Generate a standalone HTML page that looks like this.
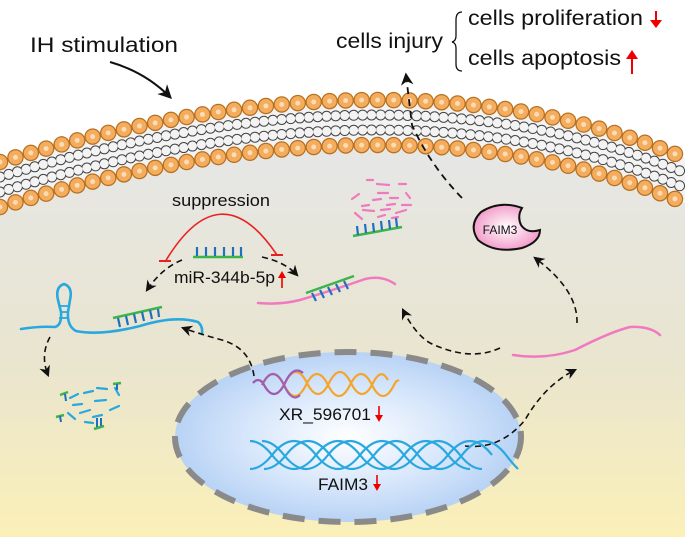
<!DOCTYPE html>
<html><head><meta charset="utf-8"><style>
html,body{margin:0;padding:0;background:#fff}
svg{display:block;font-family:"Liberation Sans",Arial,sans-serif}
</style></head><body>
<svg width="685" height="537" viewBox="0 0 685 537" xmlns="http://www.w3.org/2000/svg">
<defs>
<linearGradient id="cyto" x1="0" y1="0" x2="0" y2="1">
<stop offset="0" stop-color="#e6e6e6"/><stop offset="0.55" stop-color="#e9e5cf"/><stop offset="1" stop-color="#fbf0b8"/>
</linearGradient>
<radialGradient id="nuc" cx="0.5" cy="0.5" r="0.6">
<stop offset="0" stop-color="#ffffff"/><stop offset="0.5" stop-color="#d6e6fb"/><stop offset="1" stop-color="#a9c9f2"/>
</radialGradient>
<radialGradient id="faim" cx="0.5" cy="0.5" r="0.6">
<stop offset="0" stop-color="#fff"/><stop offset="1" stop-color="#f08cc0"/>
</radialGradient>
<marker id="ah" viewBox="0 0 10 10" refX="8" refY="5" markerWidth="7" markerHeight="7" orient="auto">
<path d="M0,0 L10,5 L0,10 L3,5 Z" fill="#111"/></marker>
</defs>
<rect width="685" height="537" fill="#fff"/>
<path d="M0,207 Q400,85 685,203 L685,537 L0,537 Z" fill="url(#cyto)"/>
<path d="M0,162 Q400,40 685,158 L685,203 Q400,85 0,207 Z" fill="#f3f3f3"/>
<g fill="none">
<path d="M0,177 Q400,55 685,173" stroke="#444" stroke-width="11" stroke-dasharray="0 9" stroke-linecap="round"/>
<path d="M0,177 Q400,55 685,173" stroke="#f3f3f3" stroke-width="9" stroke-dasharray="0 9" stroke-linecap="round"/>
<path d="M0,192 Q400,70 685,188" stroke="#444" stroke-width="11" stroke-dasharray="0 9" stroke-linecap="round"/>
<path d="M0,192 Q400,70 685,188" stroke="#f3f3f3" stroke-width="9" stroke-dasharray="0 9" stroke-linecap="round"/>
</g>
<g fill="none" stroke-linecap="round">
<path d="M0,162 Q400,40 685,158" stroke="#b8701e" stroke-width="16.5" stroke-dasharray="0 16"/>
<path d="M0,162 Q400,40 685,158" stroke="#f4ad5e" stroke-width="14" stroke-dasharray="0 16"/>
<path d="M0,162 Q400,40 685,158" stroke="#fbdcb4" stroke-width="5" stroke-dasharray="0 16"/>
<path d="M0,207 Q400,85 685,203" stroke="#b8701e" stroke-width="16.5" stroke-dasharray="0 16"/>
<path d="M0,207 Q400,85 685,203" stroke="#f4ad5e" stroke-width="14" stroke-dasharray="0 16"/>
<path d="M0,207 Q400,85 685,203" stroke="#fbdcb4" stroke-width="5" stroke-dasharray="0 16"/>
</g>

<text x="30" y="52" font-size="21" fill="#111" textLength="148" lengthAdjust="spacingAndGlyphs">IH stimulation</text>
<path d="M110,62 Q145,72 170,97" fill="none" stroke="#111" stroke-width="2" marker-end="url(#ah)"/>
<text x="336" y="48" font-size="21" fill="#111" textLength="107" lengthAdjust="spacingAndGlyphs">cells injury</text>
<path d="M462,12 Q456,12 456,20 L456,36 Q456,41 452,42 Q456,43 456,48 L456,64 Q456,71 462,71" fill="none" stroke="#111" stroke-width="1.3"/>
<text x="468" y="25" font-size="21" fill="#111" textLength="175" lengthAdjust="spacingAndGlyphs">cells proliferation</text>
<text x="468" y="65" font-size="21" fill="#111" textLength="153" lengthAdjust="spacingAndGlyphs">cells apoptosis</text>
<g stroke="#e00" stroke-width="2" fill="#e00">
<line x1="656" y1="11" x2="656" y2="24"/><path d="M650,20 L656,28 L662,20 Z" stroke="none"/>
<line x1="632" y1="74" x2="632" y2="56"/><path d="M626,59 L632,50 L638,59 Z" stroke="none"/>
</g>
<path d="M462,198 Q430,165 412,125 L406,75" fill="none" stroke="#111" stroke-width="1.8" stroke-dasharray="7 5" marker-end="url(#ah)"/>

<text x="172" y="206" font-size="17" fill="#111" textLength="98" lengthAdjust="spacingAndGlyphs">suppression</text>
<path d="M165,262 Q220,170 277,255" fill="none" stroke="#e82020" stroke-width="1.6"/>
<line x1="159" y1="261" x2="171" y2="261" stroke="#e82020" stroke-width="2"/>
<line x1="271" y1="255" x2="283" y2="255" stroke="#e82020" stroke-width="2"/>
<line x1="193" y1="257" x2="243" y2="257" stroke="#3cb44a" stroke-width="2.5"/>
<g stroke="#1f6fbf" stroke-width="2.2"><line x1="197" y1="247" x2="197" y2="256"/><line x1="206" y1="247" x2="206" y2="256"/><line x1="215" y1="247" x2="215" y2="256"/><line x1="224" y1="247" x2="224" y2="256"/><line x1="233" y1="247" x2="233" y2="256"/><line x1="241" y1="247" x2="241" y2="256"/></g>
<text x="174" y="283" font-size="17" fill="#111" textLength="101" lengthAdjust="spacingAndGlyphs">miR-344b-5p</text>
<line x1="282" y1="288" x2="282" y2="276" stroke="#e00" stroke-width="1.6"/><path d="M278,278 L282,271 L286,278 Z" fill="#e00"/>
<path d="M182,260 Q162,268 147,290" fill="none" stroke="#111" stroke-width="1.6" stroke-dasharray="6 4" marker-end="url(#ah)"/>
<path d="M262,257 Q285,262 297,275" fill="none" stroke="#111" stroke-width="1.6" stroke-dasharray="6 4" marker-end="url(#ah)"/>

<g fill="none" stroke="#29a8e0" stroke-width="2.6" stroke-linecap="round">
<path d="M21,329 Q40,326 55,327 Q62,325 61,312 L58,300 Q55,287 64,284 Q73,287 70,300 L68,312 Q67,326 76,331 Q100,336 140,326 Q175,315 198,322 Q203,326 202,334"/>
</g>
<g stroke="#29a8e0" stroke-width="1.8"><line x1="60" y1="306" x2="69" y2="306"/><line x1="60" y1="312" x2="68" y2="312"/><line x1="59" y1="318" x2="68" y2="318"/></g>
<line x1="113" y1="318" x2="162" y2="307" stroke="#3cb44a" stroke-width="2.5"/>
<g stroke="#1f6fbf" stroke-width="2.2"><line x1="118" y1="318" x2="120" y2="327"/><line x1="126" y1="316" x2="128" y2="325"/><line x1="134" y1="314" x2="136" y2="323"/><line x1="142" y1="312" x2="144" y2="321"/><line x1="150" y1="310" x2="152" y2="319"/><line x1="158" y1="309" x2="159" y2="317"/></g>
<path d="M50,337 Q40,355 48,375" fill="none" stroke="#111" stroke-width="1.6" stroke-dasharray="6 4" marker-end="url(#ah)"/>
<g stroke="#29a8e0" stroke-width="2.2" stroke-linecap="round" fill="none">
<line x1="70" y1="398" x2="78" y2="394"/><line x1="84" y1="393" x2="93" y2="391"/><line x1="97" y1="388" x2="107" y2="389"/>
<line x1="73" y1="405" x2="82" y2="404"/><line x1="95" y1="401" x2="106" y2="400"/><line x1="115" y1="388" x2="119" y2="395"/>
<line x1="68" y1="413" x2="75" y2="419"/><line x1="80" y1="413" x2="90" y2="410"/><line x1="93" y1="417" x2="102" y2="415"/><line x1="110" y1="410" x2="119" y2="406"/>
<line x1="85" y1="422" x2="93" y2="423"/>
</g>
<g stroke="#3cb44a" stroke-width="2.5"><line x1="60" y1="395" x2="68" y2="392"/><line x1="56" y1="417" x2="64" y2="415"/><line x1="113" y1="384" x2="121" y2="383"/><line x1="94" y1="429" x2="104" y2="426"/></g>
<g stroke="#1f6fbf" stroke-width="2"><line x1="65" y1="394" x2="66" y2="401"/><line x1="60" y1="416" x2="61" y2="422"/><line x1="97" y1="418" x2="97" y2="427"/><line x1="101" y1="418" x2="101" y2="426"/><line x1="117" y1="384" x2="117" y2="390"/></g>

<path d="M258,303 Q280,305 300,300 Q340,288 365,279 Q382,275 395,284" fill="none" stroke="#f07ac0" stroke-width="2.5" stroke-linecap="round"/>
<line x1="306" y1="293" x2="354" y2="276" stroke="#3cb44a" stroke-width="2.5"/>
<g stroke="#1f6fbf" stroke-width="2.2"><line x1="312" y1="293" x2="316" y2="301"/><line x1="320" y1="290" x2="324" y2="298"/><line x1="328" y1="287" x2="332" y2="295"/><line x1="336" y1="284" x2="340" y2="292"/><line x1="344" y1="281" x2="348" y2="289"/></g>
<g stroke="#f07ac0" stroke-width="2.2" stroke-linecap="round">
<line x1="367" y1="180" x2="373" y2="180"/><line x1="377" y1="184" x2="389" y2="185"/><line x1="399" y1="184" x2="406" y2="184"/>
<line x1="352" y1="199" x2="359" y2="194"/><line x1="378" y1="193" x2="388" y2="193"/><line x1="406" y1="193" x2="410" y2="198"/>
<line x1="373" y1="200" x2="381" y2="199"/><line x1="390" y1="198" x2="398" y2="198"/><line x1="387" y1="205" x2="395" y2="204"/>
<line x1="362" y1="206" x2="369" y2="205"/><line x1="402" y1="205" x2="411" y2="205"/><line x1="363" y1="210" x2="374" y2="211"/>
<line x1="381" y1="210" x2="390" y2="209"/><line x1="396" y1="213" x2="406" y2="210"/><line x1="355" y1="213" x2="362" y2="219"/>
<line x1="378" y1="217" x2="385" y2="215"/><line x1="392" y1="218" x2="398" y2="217"/>
</g>
<line x1="353" y1="236" x2="402" y2="227" stroke="#3cb44a" stroke-width="2.5"/>
<g stroke="#1f6fbf" stroke-width="2.2"><line x1="357" y1="226" x2="358" y2="235"/><line x1="365" y1="224" x2="366" y2="233"/><line x1="373" y1="223" x2="374" y2="232"/><line x1="381" y1="221" x2="382" y2="230"/><line x1="389" y1="220" x2="390" y2="229"/><line x1="396" y1="218" x2="397" y2="227"/></g>

<path d="M522,208 Q500,200 481,212 Q468,225 478,240 Q495,254 522,248 Q540,242 540,230 Q527,234 521,225 Q517,216 522,208 Z" fill="url(#faim)" stroke="#111" stroke-width="2"/>
<text x="500" y="234" font-size="12" fill="#111" text-anchor="middle">FAIM3</text>

<path d="M513,355 Q545,360 575,350 Q610,332 630,327 Q650,326 660,335" fill="none" stroke="#f07ac0" stroke-width="2.5" stroke-linecap="round"/>
<path d="M577,323 Q578,290 535,258" fill="none" stroke="#111" stroke-width="1.6" stroke-dasharray="6 4" marker-end="url(#ah)"/>
<path d="M500,348 Q470,362 430,343 Q415,334 403,310" fill="none" stroke="#111" stroke-width="1.6" stroke-dasharray="6 4" marker-end="url(#ah)"/>

<ellipse cx="348" cy="437" rx="173" ry="85" fill="url(#nuc)" stroke="#8a8a8a" stroke-width="6" stroke-dasharray="22 14"/>
<path d="M254,376 Q250,348 222,340 Q200,334 183,328" fill="none" stroke="#111" stroke-width="1.6" stroke-dasharray="6 4" marker-end="url(#ah)"/>
<path d="M465,446 Q500,450 525,420 Q545,385 575,370" fill="none" stroke="#111" stroke-width="1.6" stroke-dasharray="6 4" marker-end="url(#ah)"/>

<g fill="none" stroke-width="2.2">
<path d="M253,383 q5,-6 10,0 q11,22 22,0 q11,-22 22,0 q11,22 22,0 q11,-22 22,0 q11,22 22,0 q8,-16 15,-3" stroke="#f4a52a"/>
<path d="M262,385 q11,-22 22,0 q11,22 22,0 q11,-22 22,0 q11,22 22,0 q11,-22 22,0 q11,22 22,0 q3,-6 5,-4" stroke="#f4a52a"/>
<path d="M253,383 q5,-6 10,0 q11,22 22,0 q8,-18 18,-10" stroke="#9a5bbd"/>
<path d="M262,385 q11,-22 22,0 q8,18 16,10" stroke="#a65fb0"/>
</g>
<text x="279" y="420" font-size="17" fill="#111" textLength="92" lengthAdjust="spacingAndGlyphs">XR_596701</text>
<line x1="379" y1="406" x2="379" y2="418" stroke="#e00" stroke-width="1.6"/><path d="M375,415 L379,422 L383,415 Z" fill="#e00"/>
<g fill="none" stroke="#29a8e0" stroke-width="2.2">
<path d="M250,441 q11,0 22,14 q11,14 22,14 q11,0 22,-14 q11,-14 22,-14 q11,0 22,14 q11,14 22,14 q11,0 22,-14 q11,-14 22,-14 q11,0 22,14 q11,14 22,14"/>
<path d="M262,441 q11,0 22,14 q11,14 22,14 q11,0 22,-14 q11,-14 22,-14 q11,0 22,14 q11,14 22,14 q11,0 22,-14 q11,-14 22,-14 q11,0 22,14 q11,14 22,14"/>
<path d="M250,469 q11,0 22,-14 q11,-14 22,-14 q11,0 22,14 q11,14 22,14 q11,0 22,-14 q11,-14 22,-14 q11,0 22,14 q11,14 22,14 q11,0 22,-14 q11,-14 22,-14 q11,0 22,14"/>
<path d="M264,469 q11,0 22,-14 q11,-14 22,-14 q11,0 22,14 q11,14 22,14 q11,0 22,-14 q11,-14 22,-14 q11,0 22,14 q11,14 22,14 q11,0 22,-14 q11,-14 22,-14 q11,0 22,14 q6,8 12,14"/>
</g>
<text x="318" y="490" font-size="17" fill="#111" textLength="50" lengthAdjust="spacingAndGlyphs">FAIM3</text>
<line x1="377" y1="475" x2="377" y2="487" stroke="#e00" stroke-width="1.6"/><path d="M373,484 L377,491 L381,484 Z" fill="#e00"/>
</svg>
</body></html>
